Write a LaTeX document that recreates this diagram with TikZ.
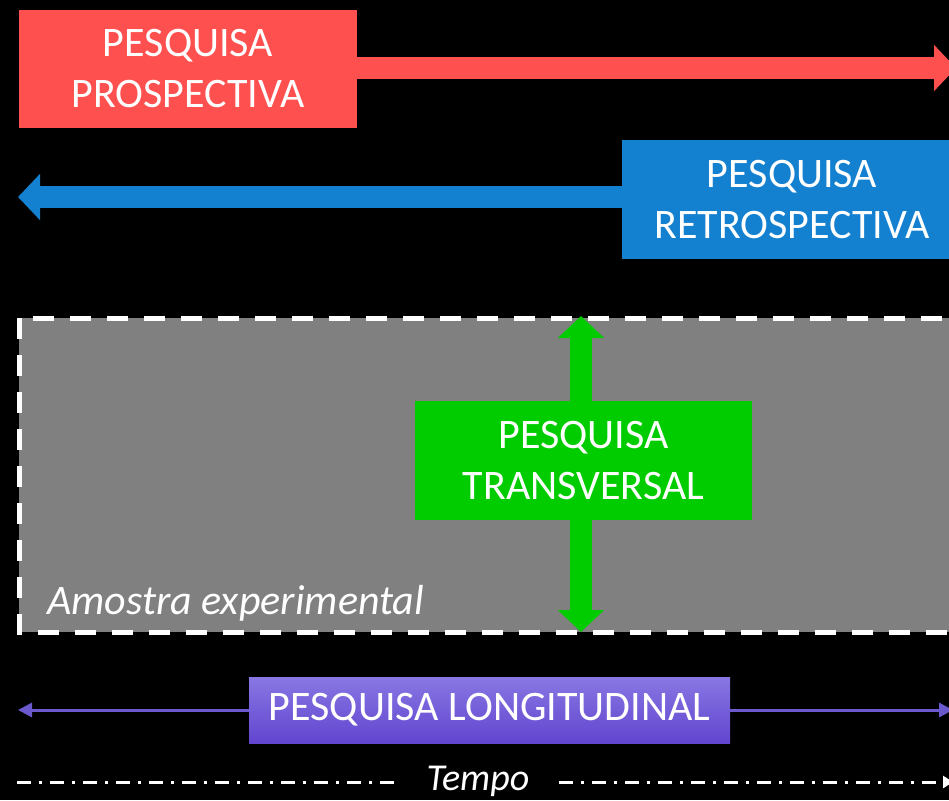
\documentclass[tikz,border=0pt]{standalone}
\usepackage{fontspec}
\setmainfont{Carlito}
\usetikzlibrary{arrows.meta}
\definecolor{redc}{HTML}{FF5050}
\definecolor{bluec}{HTML}{1380D0}
\definecolor{greenc}{HTML}{00CC00}
\definecolor{grayc}{HTML}{808080}
\definecolor{purtop}{HTML}{8877E3}
\definecolor{purbot}{HTML}{6245CF}
\definecolor{purline}{HTML}{6A5ACD}
\tikzset{
  box/.style={inner sep=0pt, outer sep=0pt, text=white, align=center,
    font=\fontsize{42}{51}\selectfont},
  fatarrow/.style={line width=22pt, -{Triangle[width=45pt,length=22pt]}},
  thinarrow/.style={purline, line width=3pt, -{Triangle[width=14pt,length=14pt]}},
  timeline/.style={white, line width=3pt, dash pattern=on 14pt off 8pt on 3pt off 8pt},
  lbl/.style={text=white, inner sep=0pt, font=\fontsize{42}{50}\selectfont\itshape}
}
\begin{document}
\begin{tikzpicture}[x=1pt,y=-1pt]
\useasboundingbox[fill=black] (0,0) rectangle (949,800);
% sample box
\draw[draw=white, fill=grayc, line width=5pt, dash pattern=on 21pt off 16pt]
  (19,318) -- (19,632) -- (962,632) -- (962,318) -- cycle;
\node[lbl, anchor=base west] (amostra) at (47,614) {Amostra experimental};
% coordinates
\coordinate (rt) at (956,68);
\coordinate (bt) at (18,197);
\coordinate (gt) at (581,316);
\coordinate (gb) at (581,632);
\coordinate (pl) at (18,710);
\coordinate (pr) at (953,710);
\coordinate (tl) at (17,782);
\coordinate (tr) at (953,782);
% boxes
\node[box, fill=redc, minimum width=338pt, minimum height=118pt] (red) at (188,69) {PESQUISA\\PROSPECTIVA};
\node[box, fill=bluec, minimum width=340pt, minimum height=119pt] (blue) at (792,199.5) {PESQUISA\\RETROSPECTIVA};
% arrows
\draw[redc, fatarrow] (red.east |- rt) -- (rt);
\draw[bluec, fatarrow] (blue.west |- bt) -- (bt);
\node[box, fill=greenc, minimum width=337pt, minimum height=119pt] (green) at (583.5,460.5) {PESQUISA\\TRANSVERSAL};
\draw[greenc, fatarrow] (green.north -| gt) -- (gt);
\draw[greenc, fatarrow] (green.south -| gb) -- (gb);
% longitudinal
\node[box, top color=purtop, bottom color=purbot, minimum width=481pt, minimum height=66pt] (purple) at (489.5,710) {PESQUISA LONGITUDINAL};
\draw[thinarrow] (purple.west) -- (pl);
\draw[thinarrow] (purple.east) -- (pr);
% time
\node[lbl, font=\fontsize{38}{46}\selectfont\itshape, inner xsep=30pt] (tempo) at (478,781) {Tempo};
\draw[timeline] (tl) -- (tempo.west |- tl);
\draw[timeline, -{Triangle[width=12pt,length=10pt]}] (tempo.east |- tr) -- (tr);
\end{tikzpicture}
\end{document}
